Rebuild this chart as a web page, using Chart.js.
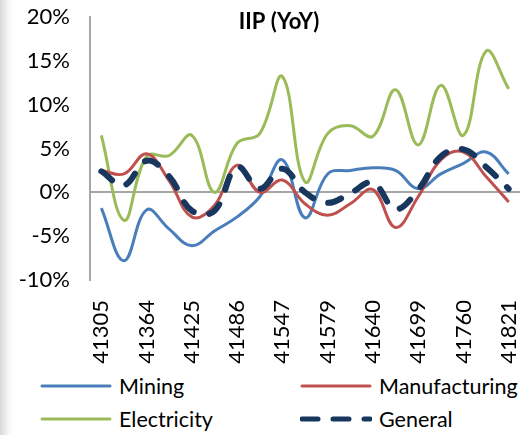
<!DOCTYPE html>
<html>
<head>
<meta charset="utf-8">
<script src="https://cdn.jsdelivr.net/npm/chart.js@4"></script>
<style>
  html, body { margin: 0; padding: 0; }
  body {
    width: 531px; height: 435px; overflow: hidden; position: relative;
    background: linear-gradient(to right, #d8d8d8 0px, #f4f4f4 8px, #ffffff 13px);
    font-family: Lato, "Open Sans", sans-serif;
  }
  #wrap { position: absolute; left: 0; top: 0; width: 531px; height: 365px; }
  #legend {
    position: absolute; left: 40px; top: 374px; width: 491px;
    display: grid; grid-template-columns: 260px 231px; row-gap: 9px;
    font-size: 21.5px; color: #000;
  }
  .item { display: flex; align-items: center; height: 24px; }
  .item svg { margin-right: 7px; flex: none; }
</style>
</head>
<body>
<div id="wrap"><canvas id="c" width="531" height="365"></canvas></div>
<div id="legend"></div>
<script>
const categories = [41305, 41333, 41364, 41394, 41425, 41455, 41486, 41517, 41547, 41563,
                    41579, 41609, 41640, 41671, 41699, 41730, 41760, 41791, 41821];
const shownTickLabels = ['41305','41364','41425','41486','41547','41579','41640','41699','41760','41821'];
const mining        = [-1.8, -7.8, -2.0, -4.2, -6.1, -4.4, -2.8, -0.5, 3.7, -2.9, 2.1, 2.5, 2.8, 2.5, 0.4, 2.1, 3.3, 4.6, 2.1];
const manufacturing = [2.5, 2.1, 4.4, 1.3, -2.8, -1.5, 3.1, 0.0, 1.4, -1.3, -2.6, -1.3, 0.3, -4.0, -0.5, 3.7, 4.6, 1.8, -1.1];
const electricity   = [6.5, -3.2, 4.1, 4.2, 6.5, 0.0, 5.6, 6.7, 13.2, 1.2, 6.7, 7.6, 6.4, 11.7, 5.4, 12.2, 6.5, 16.1, 11.8];
const general       = [2.4, 0.8, 3.6, 1.8, -2.1, -2.1, 2.9, 0.4, 2.7, 0.0, -1.2, -0.1, 1.1, -1.9, 0.3, 4.1, 4.9, 2.9, 0.4];
const yTicks = [-10, -5, 0, 5, 10, 15, 20];
const titleText = 'IIP (YoY)';

const FONT = 'Lato';

const titlePlugin = {
  id: 'innerTitle',
  afterDraw(chart) {
    const ctx = chart.ctx;
    ctx.save();
    ctx.font = 'bold 22px ' + FONT;
    ctx.fillStyle = '#000';
    ctx.textAlign = 'center';
    ctx.textBaseline = 'middle';
    ctx.fillText(titleText, 279, 22);
    ctx.restore();
  }
};

const chart = new Chart(document.getElementById('c'), {
  type: 'line',
  data: {
    labels: categories.map(String),
    datasets: [
      { label: 'Mining', data: mining, borderColor: '#4a7ebb', borderWidth: 3, order: 3 },
      { label: 'Manufacturing', data: manufacturing, borderColor: '#c0504d', borderWidth: 3, order: 2 },
      { label: 'Electricity', data: electricity, borderColor: '#9bbb59', borderWidth: 3, order: 4 },
      { label: 'General', data: general, borderColor: '#17375e', borderWidth: 6,
        borderDash: [14, 16], borderCapStyle: 'round', order: 0 }
    ]
  },
  options: {
    responsive: false,
    animation: false,
    layout: { padding: { top: 17, right: 11, left: 0, bottom: 0 } },
    elements: {
      point: { radius: 0, hoverRadius: 0 },
      line: { tension: 0.4, fill: false, borderJoinStyle: 'round' }
    },
    plugins: { legend: { display: false }, tooltip: { enabled: false }, title: { display: false } },
    scales: {
      x: {
        offset: true,
        grid: { display: false },
        border: { display: false },
        afterFit(s) { s.height = 85; s.paddingLeft = 0; s.paddingRight = 0; },
        ticks: {
          autoSkip: false, maxRotation: 90, minRotation: 90, padding: 12,
          color: '#000', font: { family: FONT, size: 22 },
          callback(v, i) { const l = String(categories[i]); return shownTickLabels.includes(l) ? l : ''; }
        }
      },
      y: {
        min: yTicks[0], max: yTicks[yTicks.length - 1],
        afterFit(s) { s.width = 90; s.paddingTop = 0; s.paddingBottom = 0; },
        afterBuildTicks(s) { s.ticks = yTicks.map(v => ({ value: v })); },
        border: { display: true, color: '#a6a6a6', width: 2 },
        grid: {
          drawTicks: false, lineWidth: 2,
          color: c => (c.tick && c.tick.value === 0) ? '#a6a6a6' : 'rgba(0,0,0,0)'
        },
        ticks: {
          padding: 20, color: '#000', font: { family: FONT, size: 22 },
          callback: v => v + '%'
        }
      }
    }
  },
  plugins: [titlePlugin]
});

// HTML legend built from the datasets, in the reference's grid order
const legendOrder = ['Mining', 'Manufacturing', 'Electricity', 'General'];
const legendEl = document.getElementById('legend');
legendOrder.forEach(name => {
  const ds = chart.data.datasets.find(d => d.label === name);
  const item = document.createElement('div');
  item.className = 'item';
  const w = ds.borderDash ? 5 : 3;
  const dash = ds.borderDash ? 'stroke-dasharray="16 15" stroke-linecap="round"' : 'stroke-linecap="round"';
  item.innerHTML = '<svg width="72" height="10"><line x1="2" y1="5" x2="70" y2="5" stroke="' + ds.borderColor +
    '" stroke-width="' + w + '" ' + dash + '/></svg><span>' + ds.label + '</span>';
  legendEl.appendChild(item);
});
</script>
</body>
</html>
